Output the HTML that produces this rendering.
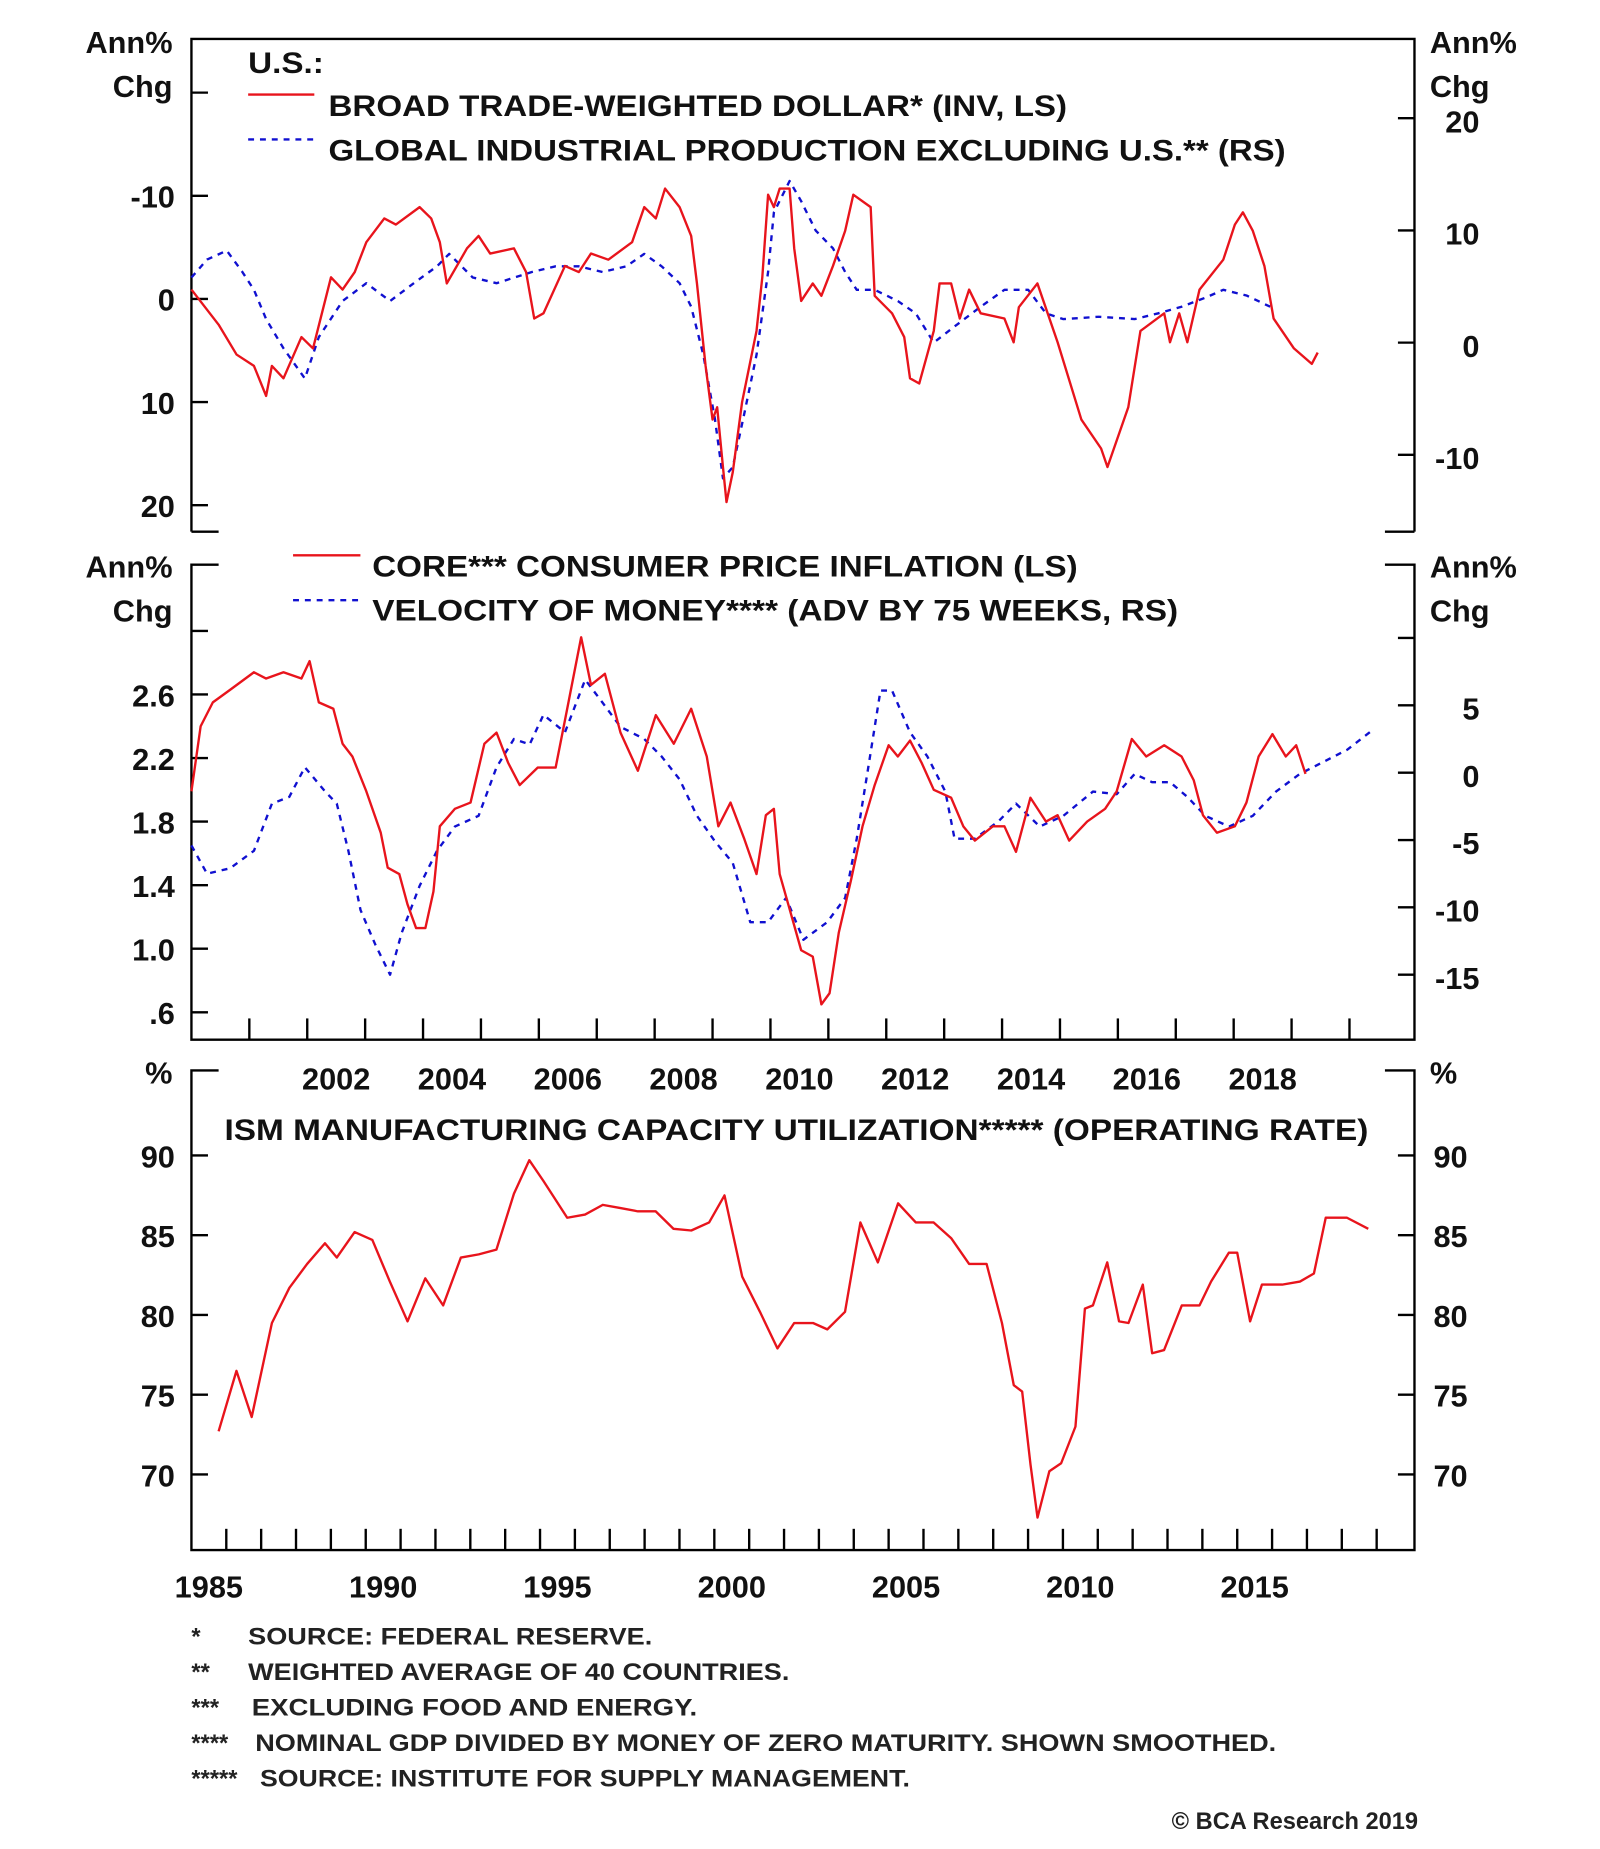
<!DOCTYPE html>
<html><head><meta charset="utf-8"><style>
html,body{margin:0;padding:0;background:#fff;}
svg{display:block;}
text{font-family:"Liberation Sans",Arial,sans-serif;fill:#111;}
.t{font-size:26px;font-weight:bold;}
.l{font-size:25px;font-weight:bold;}
.f{font-size:20px;font-weight:bold;fill:#222;}
</style></head><body>
<svg id="chart" width="1600" height="1849" viewBox="0 0 1354 1565" preserveAspectRatio="none" xmlns="http://www.w3.org/2000/svg">
<g id="frames" stroke="#000" stroke-width="2" fill="none">
  <path d="M162,450 V33 H1197 V450 M162,450 H185 M1172,450 H1197"/>
  <path d="M185,478 H162 V880 H1197 V478 H1172"/>
  <path d="M185,906 H162 V1312 H1197 V906 H1172"/>
</g>
<g id="ticks" stroke="#000" stroke-width="2"></g>
<g id="labels"></g>
<g id="series"></g>
<g>
  <text class="l" x="210" y="62" textLength="64" lengthAdjust="spacingAndGlyphs">U.S.:</text>
  <line x1="210" y1="80" x2="266" y2="80" stroke="#e8141c" stroke-width="2"/>
  <text class="l" x="278" y="98" textLength="625" lengthAdjust="spacingAndGlyphs">BROAD TRADE-WEIGHTED DOLLAR* (INV, LS)</text>
  <line x1="210" y1="118" x2="266" y2="118" stroke="#1010d0" stroke-width="2" stroke-dasharray="5,5"/>
  <text class="l" x="278" y="136" textLength="810" lengthAdjust="spacingAndGlyphs">GLOBAL INDUSTRIAL PRODUCTION EXCLUDING U.S.** (RS)</text>
</g>
<g>
  <line x1="248" y1="470" x2="305" y2="470" stroke="#e8141c" stroke-width="2"/>
  <text class="l" x="315" y="488" textLength="597" lengthAdjust="spacingAndGlyphs">CORE*** CONSUMER PRICE INFLATION (LS)</text>
  <line x1="248" y1="508" x2="305" y2="508" stroke="#1010d0" stroke-width="2" stroke-dasharray="5,5"/>
  <text class="l" x="315" y="525" textLength="682" lengthAdjust="spacingAndGlyphs">VELOCITY OF MONEY**** (ADV BY 75 WEEKS, RS)</text>
</g>
<text class="l" x="190" y="965" textLength="968" lengthAdjust="spacingAndGlyphs">ISM MANUFACTURING CAPACITY UTILIZATION***** (OPERATING RATE)</text>
<g>
  <text class="f" x="162" y="1392">*</text><text class="f" x="210" y="1392" textLength="342" lengthAdjust="spacingAndGlyphs">SOURCE: FEDERAL RESERVE.</text>
  <text class="f" x="162" y="1422">**</text><text class="f" x="210" y="1422" textLength="458" lengthAdjust="spacingAndGlyphs">WEIGHTED AVERAGE OF 40 COUNTRIES.</text>
  <text class="f" x="162" y="1452">***</text><text class="f" x="213" y="1452" textLength="377" lengthAdjust="spacingAndGlyphs">EXCLUDING FOOD AND ENERGY.</text>
  <text class="f" x="162" y="1482">****</text><text class="f" x="216" y="1482" textLength="864" lengthAdjust="spacingAndGlyphs">NOMINAL GDP DIVIDED BY MONEY OF ZERO MATURITY. SHOWN SMOOTHED.</text>
  <text class="f" x="162" y="1512">*****</text><text class="f" x="220" y="1512" textLength="550" lengthAdjust="spacingAndGlyphs">SOURCE: INSTITUTE FOR SUPPLY MANAGEMENT.</text>
  <text class="f" x="1200" y="1548" text-anchor="end">© BCA Research 2019</text>
</g>
</svg>
<script>
// ---- data ----
const dollarYears=[2000.00,2000.47,2000.78,2001.08,2001.29,2001.39,2001.59,2001.90,2002.10,2002.41,2002.61,2002.82,2003.02,2003.33,2003.53,2003.94,2004.14,2004.29,2004.41,2004.76,2004.96,2005.16,2005.57,2005.78,2005.92,2006.08,2006.45,2006.69,2006.90,2007.20,2007.61,2007.82,2008.02,2008.18,2008.43,2008.63,2008.73,2008.88,2009.00,2009.08,2009.18,2009.24,2009.35,2009.51,2009.76,2009.86,2009.96,2010.06,2010.16,2010.33,2010.41,2010.53,2010.73,2010.88,2011.08,2011.29,2011.43,2011.73,2011.80,2012.10,2012.31,2012.41,2012.57,2012.82,2012.92,2013.12,2013.27,2013.43,2013.63,2014.04,2014.20,2014.29,2014.61,2014.96,2015.37,2015.71,2015.82,2016.18,2016.39,2016.80,2016.90,2017.06,2017.20,2017.41,2017.82,2018.02,2018.16,2018.33,2018.53,2018.69,2019.04,2019.35,2019.45];
const dollarValues=[-0.9,2.5,5.4,6.5,9.4,6.5,7.7,3.7,4.8,-2.1,-0.9,-2.6,-5.5,-7.8,-7.2,-8.9,-7.8,-5.5,-1.5,-4.9,-6.1,-4.4,-4.9,-2.6,1.9,1.4,-3.2,-2.6,-4.4,-3.8,-5.5,-8.9,-7.8,-10.7,-8.9,-6.1,-1.5,6.5,11.7,10.5,16.3,19.7,16.8,10.0,3.1,-2.1,-10.1,-8.9,-10.7,-10.7,-4.9,0.2,-1.5,-0.3,-3.2,-6.6,-10.1,-8.9,-0.3,1.4,3.7,7.7,8.2,3.1,-1.5,-1.5,1.9,-0.9,1.4,1.9,4.2,0.8,-1.5,4.2,11.7,14.5,16.3,10.5,3.1,1.4,4.2,1.4,4.2,-0.9,-3.8,-7.2,-8.4,-6.6,-3.2,1.9,4.8,6.3,5.2];
const ipYears=[2000.00,2000.27,2000.61,2000.88,2001.08,2001.29,2001.59,2001.96,2002.20,2002.61,2003.02,2003.43,2003.84,2004.24,2004.45,2004.86,2005.27,2005.88,2006.29,2006.69,2007.10,2007.51,2007.82,2008.12,2008.43,2008.63,2008.84,2009.04,2009.18,2009.35,2009.55,2009.76,2009.96,2010.06,2010.33,2010.53,2010.78,2011.08,2011.29,2011.49,2011.80,2012.20,2012.51,2012.82,2013.22,2013.63,2014.04,2014.45,2014.76,2015.06,2015.67,2016.29,2016.69,2017.10,2017.51,2017.82,2018.22,2018.63];
const ipValues=[5.8,7.4,8.2,6.3,4.7,2.1,-0.5,-3.2,0.5,3.7,5.3,3.7,5.3,6.8,7.9,5.8,5.3,6.3,6.8,6.8,6.3,6.8,7.9,6.8,5.3,3.2,-1.1,-6.8,-12.1,-11.1,-6.3,-1.1,6.3,11.6,14.4,12.6,10.0,8.4,6.3,4.7,4.7,3.7,2.6,0.0,1.6,3.2,4.7,4.7,2.6,2.1,2.3,2.1,2.6,3.2,4.0,4.7,4.2,3.2];
const cpiYears=[2000.00,2000.16,2000.37,2000.67,2001.08,2001.29,2001.59,2001.90,2002.04,2002.20,2002.45,2002.61,2002.78,2003.02,2003.27,2003.39,2003.59,2003.73,2003.88,2004.04,2004.18,2004.29,2004.55,2004.82,2005.06,2005.27,2005.47,2005.67,2005.98,2006.29,2006.49,2006.73,2006.90,2007.14,2007.41,2007.71,2008.02,2008.33,2008.63,2008.90,2009.10,2009.31,2009.55,2009.76,2009.92,2010.06,2010.16,2010.33,2010.53,2010.73,2010.88,2011.02,2011.18,2011.39,2011.59,2011.80,2012.04,2012.20,2012.41,2012.61,2012.82,2013.12,2013.33,2013.53,2013.84,2014.04,2014.24,2014.49,2014.76,2014.96,2015.16,2015.47,2015.78,2015.98,2016.24,2016.49,2016.80,2017.10,2017.31,2017.47,2017.71,2018.02,2018.22,2018.43,2018.67,2018.90,2019.08,2019.24];
const cpiValues=[1.99,2.40,2.55,2.63,2.74,2.70,2.74,2.70,2.81,2.55,2.51,2.29,2.21,1.99,1.73,1.51,1.47,1.28,1.13,1.13,1.36,1.77,1.88,1.92,2.29,2.36,2.17,2.03,2.14,2.14,2.51,2.96,2.66,2.73,2.36,2.12,2.47,2.29,2.51,2.21,1.77,1.92,1.69,1.47,1.84,1.88,1.47,1.25,0.99,0.95,0.65,0.72,1.10,1.43,1.77,2.03,2.28,2.21,2.31,2.17,2.00,1.95,1.77,1.68,1.77,1.77,1.61,1.95,1.80,1.84,1.68,1.80,1.88,1.99,2.32,2.21,2.28,2.21,2.06,1.84,1.73,1.77,1.92,2.21,2.35,2.21,2.28,2.10];
const velYears=[2000.00,2000.27,2000.67,2001.08,2001.39,2001.69,2001.96,2002.31,2002.51,2002.71,2002.92,2003.18,2003.43,2003.63,2003.94,2004.24,2004.55,2004.96,2005.27,2005.57,2005.84,2006.08,2006.45,2006.80,2007.10,2007.41,2007.82,2008.12,2008.43,2008.73,2009.04,2009.35,2009.65,2009.96,2010.27,2010.57,2010.98,2011.29,2011.49,2011.69,2011.90,2012.10,2012.41,2012.71,2013.02,2013.18,2013.53,2013.94,2014.24,2014.65,2015.06,2015.57,2015.98,2016.29,2016.59,2016.90,2017.20,2017.51,2017.92,2018.33,2018.73,2019.14,2019.55,2019.96,2020.41];
const velValues=[-5.4,-7.5,-7.1,-5.8,-2.3,-1.8,0.4,-1.4,-2.3,-5.8,-10.2,-12.8,-15.0,-11.9,-8.4,-5.8,-4.0,-3.2,0.4,2.5,2.1,4.3,3.0,6.9,5.2,3.4,2.5,1.2,-0.5,-3.2,-5.1,-6.7,-11.1,-11.1,-9.3,-12.4,-11.1,-9.3,-4.9,0.4,6.1,6.1,3.0,1.2,-1.4,-4.9,-4.9,-3.6,-2.3,-4.0,-3.2,-1.4,-1.6,-0.1,-0.7,-0.7,-1.8,-3.2,-4.0,-3.2,-1.4,-0.1,0.8,1.7,3.2];
const ismYears=[1985.78,1986.29,1986.73,1987.31,1987.81,1988.32,1988.83,1989.17,1989.68,1990.19,1990.69,1991.20,1991.71,1992.22,1992.73,1993.24,1993.75,1994.25,1994.69,1995.10,1995.78,1996.29,1996.80,1997.31,1997.81,1998.32,1998.83,1999.34,1999.85,2000.29,2000.80,2001.31,2001.81,2002.29,2002.83,2003.24,2003.75,2004.19,2004.69,2005.27,2005.78,2006.29,2006.80,2007.31,2007.81,2008.25,2008.59,2008.83,2009.07,2009.27,2009.61,2009.95,2010.36,2010.63,2010.86,2011.27,2011.61,2011.88,2012.29,2012.56,2012.90,2013.41,2013.92,2014.25,2014.76,2015.00,2015.37,2015.71,2016.29,2016.80,2017.20,2017.54,2018.15,2018.76];
const ismValues=[72.7,76.5,73.6,79.5,81.7,83.2,84.5,83.6,85.2,84.7,82.1,79.6,82.3,80.6,83.6,83.8,84.1,87.6,89.7,88.4,86.1,86.3,86.9,86.7,86.5,86.5,85.4,85.3,85.8,87.5,82.4,80.2,77.9,79.5,79.5,79.1,80.2,85.8,83.3,87.0,85.8,85.8,84.8,83.2,83.2,79.5,75.6,75.2,70.6,67.3,70.2,70.7,73.0,80.4,80.6,83.3,79.6,79.5,81.9,77.6,77.8,80.6,80.6,82.1,83.9,83.9,79.6,81.9,81.9,82.1,82.6,86.1,86.1,85.4];
const p1LeftTicks=[-20,-10,0,10,20], p1LeftLabels=["","-10","0","10","20"];
const p1RightTicks=[20,10,0,-10], p2LeftTicks=[3.0,2.6,2.2,1.8,1.4,1.0,0.6], p2LeftLabels=["","2.6","2.2","1.8","1.4","1.0",".6"];
const p2RightTicks=[10,5,0,-5,-10,-15], p2RightLabels=["","5","0","-5","-10","-15"];
const p3Ticks=[90,85,80,75,70];
const yearLabelsTop=[2002,2004,2006,2008,2010,2012,2014,2016,2018];
const yearLabelsBottom=[1985,1990,1995,2000,2005,2010,2015];

// ---- scales ----
const xTop=t=>260+49*(t-2002);
const xBot=t=>162+29.5*(t-1985);
const y1L=v=>253+8.73*v;
const y1R=v=>290-9.5*v;
const y2L=v=>803-(v-1.0)*134.5;
const y2R=v=>654-11.4*v;
const y3=v=>1113-(v-80)*13.5;
const NS='http://www.w3.org/2000/svg';
function mk(tag,parent,attrs){const e=document.createElementNS(NS,tag);for(const k in attrs)e.setAttribute(k,attrs[k]);parent.appendChild(e);return e;}
const ticks=document.getElementById('ticks'),labels=document.getElementById('labels'),series=document.getElementById('series');
function tick(x1,y1,x2,y2,name){const l=mk('line',ticks,{x1,y1,x2,y2});

}
function label(x,y,txt,anchor,name){const t=mk('text',labels,{x,y,'text-anchor':anchor,'class':'t'});t.textContent=txt;

}
function line(xs,ys,fx,fy,color,dash,name){let d='';xs.forEach((t,i)=>{d+=(i?'L':'M')+fx(t).toFixed(1)+','+fy(ys[i]).toFixed(1);});
const p=mk('path',series,{d,fill:'none',stroke:color,'stroke-width':2,'stroke-linejoin':'round'});if(dash)p.setAttribute('stroke-dasharray',dash);

}

[[45,'Ann%'],[82,'Chg']].forEach(([y,s])=>{label(146,y,s,'end','p1-left-unit');label(1210,y,s,'start','p1-right-unit');});
[[489,'Ann%'],[526,'Chg']].forEach(([y,s])=>{label(146,y,s,'end','p2-left-unit');label(1210,y,s,'start','p2-right-unit');});
label(146,917,'%','end','p3-left-unit');label(1210,917,'%','start','p3-right-unit');
// panel 1
p1LeftTicks.forEach((v,i)=>{const y=y1L(v);if(y>33&&y<450){tick(162,y,176,y,'p1-left-tick');if(p1LeftLabels[i])label(148,y+10,p1LeftLabels[i],'end','p1-left-label');}});
p1RightTicks.forEach(v=>{const y=y1R(v);tick(1183,y,1197,y,'p1-right-tick');label(1252,y+12,String(v),'end','p1-right-label');});
// panel 2
p2LeftTicks.forEach((v,i)=>{const y=y2L(v);tick(162,y,176,y,'p2-left-tick');if(p2LeftLabels[i])label(148,y+10,p2LeftLabels[i],'end','p2-left-label');});
p2RightTicks.forEach((v,i)=>{const y=y2R(v);tick(1183,y,1197,y,'p2-right-tick');if(p2RightLabels[i])label(1252,y+12,p2RightLabels[i],'end','p2-right-label');});
for(let yr=2001;yr<=2020;yr++){const x=xTop(yr);tick(x,880,x,862,'p2-year-tick');}
yearLabelsTop.forEach(yr=>label(xTop(yr+0.5),922,String(yr),'middle','year-label-top'));
// panel 3
p3Ticks.forEach(v=>{const y=y3(v);tick(162,y,176,y,'p3-left-tick');tick(1183,y,1197,y,'p3-right-tick');label(148,y+10,String(v),'end','p3-left-label');label(1242,y+10,String(v),'end','p3-right-label');});
for(let yr=1986;yr<=2019;yr++){const x=xBot(yr);tick(x,1312,x,1294,'p3-year-tick');}
yearLabelsBottom.forEach(yr=>label(xBot(yr+0.5),1352,String(yr),'middle','year-label-bottom'));
// series
line(ipYears,ipValues,xTop,y1R,'#1010d0','5,5','global-ip-line');
line(dollarYears,dollarValues,xTop,y1L,'#e8141c',null,'dollar-line');
line(velYears,velValues,xTop,y2R,'#1010d0','5,5','velocity-line');
line(cpiYears,cpiValues,xTop,y2L,'#e8141c',null,'core-cpi-line');
line(ismYears,ismValues,xBot,y3,'#e8141c',null,'ism-line');
</script>
</body></html>
